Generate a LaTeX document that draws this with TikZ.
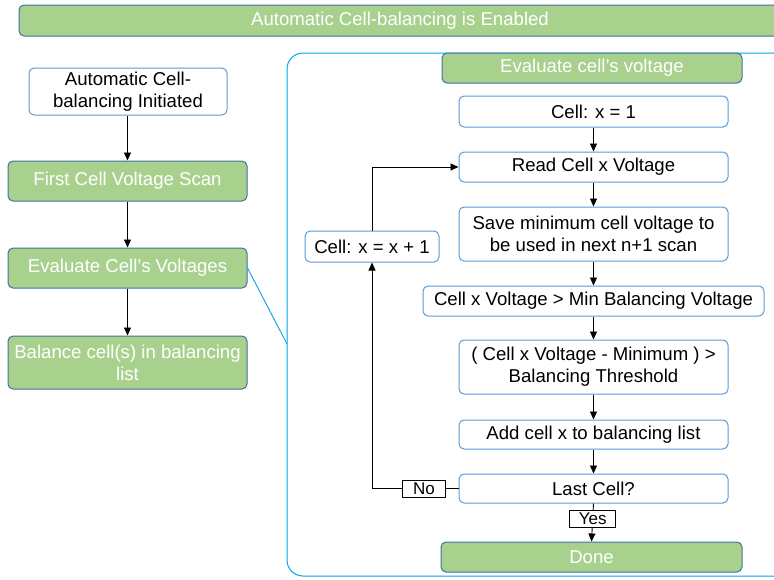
\documentclass[tikz,border=0pt]{standalone}
\usepackage{fontspec}
\setmainfont{Liberation Sans}
\usetikzlibrary{arrows.meta}
\definecolor{grn}{HTML}{A9D18E}
\definecolor{gbd}{HTML}{41719C}
\definecolor{bbl}{HTML}{5B9BD5}
\definecolor{cyn}{HTML}{00A6E6}
\newcommand\fsmain{\fontsize{18.6}{22}\selectfont}
\newcommand\fslab{\fontsize{17}{19}\selectfont}
\tikzset{
  base/.style={rounded corners=5pt, line width=1pt, align=center, inner sep=1pt, font=\fsmain},
  wbox/.style={base, draw=bbl, fill=white, text=black},
  gbox/.style={base, draw=gbd, fill=grn, text=white},
  arr/.style={-{Triangle[length=8pt,width=7pt]}, line width=0.9pt},
  lab/.style={draw, fill=white, inner sep=0pt, line width=0.8pt, font=\fslab, minimum height=17},
}
\begin{document}
\begin{tikzpicture}[x=1pt,y=-1pt]
\useasboundingbox (0,0) rectangle (774,579);
\clip (0,0) rectangle (774,579);
% banner
\node[gbox, minimum width=762, minimum height=31] (banner) at (400,20.5) {Automatic Cell-balancing is Enabled};
% frame
\draw[cyn, line width=1pt, rounded corners=16pt] (287,53) rectangle (800,576);
\coordinate (fl) at (287,344);
% left column
\node[wbox, minimum width=198, minimum height=47] (init) at (128,91.5) {Automatic Cell-\\balancing Initiated};
\node[gbox, minimum width=239, minimum height=40] (scan) at (127.5,181) {First Cell Voltage Scan};
\node[gbox, minimum width=239, minimum height=40] (evl) at (127.5,268) {Evaluate Cell’s Voltages};
\node[gbox, minimum width=239, minimum height=53] (bal) at (127.5,362.5) {Balance cell(s) in balancing\\list};
\draw[arr] (init.south -| scan.north) -- (scan.north);
\draw[arr] (scan) -- (evl);
\draw[arr] (evl) -- (bal);
\draw[cyn, line width=0.9pt] (evl.east) -- (fl);
% right column
\node[gbox, minimum width=300, minimum height=30] (hdr) at (592,68) {Evaluate cell’s voltage};
\node[wbox, minimum width=269, minimum height=31] (c1) at (593.5,111.5) {Cell: x = 1};
\node[wbox, minimum width=269, minimum height=30] (read) at (593.5,167) {Read Cell x Voltage};
\node[wbox, minimum width=269, minimum height=54] (save) at (593.5,234) {Save minimum cell voltage to\\be used in next n+1 scan};
\node[wbox, minimum width=341, minimum height=30] (minv) at (593.5,301) {Cell x Voltage > Min Balancing Voltage};
\node[wbox, minimum width=269, minimum height=54] (thr) at (593.5,367) {( Cell x Voltage - Minimum ) >\\Balancing Threshold};
\node[wbox, minimum width=269, minimum height=29] (add) at (593.5,434.5) {Add cell x to balancing list};
\node[wbox, minimum width=269, minimum height=29] (last) at (593.5,488.5) {Last Cell?};
\node[gbox, minimum width=301, minimum height=30] (done) at (591.5,557) {Done};
\node[wbox, minimum width=134, minimum height=31] (inc) at (372,246.5) {Cell: x = x + 1};
\draw[arr] (c1) -- (read);
\draw[arr] (read) -- (save);
\draw[arr] (save) -- (minv);
\draw[arr] (minv) -- (thr);
\draw[arr] (thr) -- (add);
\draw[arr] (add) -- (last);
\draw[arr] (last.south) -- node[lab, pos=0.4, minimum width=46] {Yes} (done.north);
\draw[arr] (last.west) -| node[lab, pos=0.2, minimum width=43] {No} (inc.south);
\draw[arr] (inc.north) |- (read.west);
\end{tikzpicture}
\end{document}
